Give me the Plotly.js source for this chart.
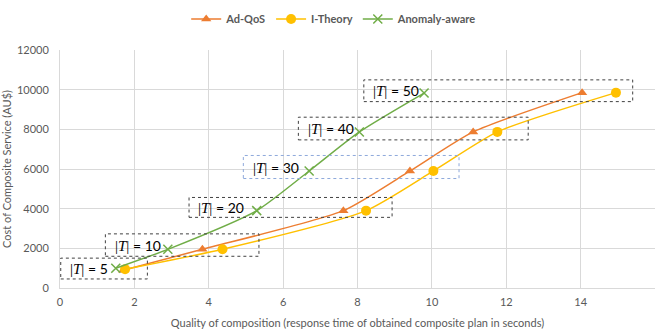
<!DOCTYPE html>
<html>
<head>
<meta charset="utf-8">
<script src="https://cdn.plot.ly/plotly-3.0.1.min.js"></script>
<style>html,body{margin:0;padding:0;background:#fff;}#chart{width:660px;height:335px;}</style>
</head>
<body>
<div id="chart"></div>
<script>
// ---- data ----
const seriesNames = ["Ad-QoS", "I-Theory", "Anomaly-aware"];
const tLabels = [5, 10, 20, 30, 40, 50];
const xAdQoS = [1.7, 3.83, 7.62, 9.41, 11.11, 14.04];
const yAdQoS = [900, 1950, 3900, 5900, 7870, 9850];
const xITheory = [1.75, 4.37, 8.23, 10.04, 11.76, 14.95];
const yITheory = [950, 1950, 3900, 5900, 7870, 9850];
const xAnomaly = [1.5, 2.9, 5.29, 6.7, 8.05, 9.79];
const yAnomaly = [1000, 1950, 3900, 5900, 7870, 9830];

const FONT = "Lato, 'Open Sans', sans-serif";
const GRAY = "#595959";

const traces = [
  {x: xAdQoS, y: yAdQoS, name: seriesNames[0], mode: "lines+markers",
   line: {color: "#ED7D31", width: 1.5, shape: "spline", smoothing: 0.6},
   marker: {symbol: "triangle-up", size: 9, color: "#ED7D31"}},
  {x: xITheory, y: yITheory, name: seriesNames[1], mode: "lines+markers",
   line: {color: "#FFC000", width: 1.5, shape: "spline", smoothing: 0.6},
   marker: {symbol: "circle", size: 10, color: "#FFC000"}},
  {x: xAnomaly, y: yAnomaly, name: seriesNames[2], mode: "lines+markers",
   line: {color: "#70AD47", width: 1.5, shape: "spline", smoothing: 0.6},
   marker: {symbol: "x-thin", size: 9, color: "#70AD47", line: {color: "#70AD47", width: 1.5}}}
];

// label boxes (data coordinates)
const boxes = [
  {x0: 0.02, x1: 2.35, y0: 456, y1: 1506, c: "#404040"},
  {x0: 1.22, x1: 5.35, y0: 1600, y1: 2730, c: "#404040"},
  {x0: 3.47, x1: 8.93, y0: 3562, y1: 4565, c: "#404040"},
  {x0: 4.93, x1: 10.73, y0: 5520, y1: 6682, c: "#8EA9DB"},
  {x0: 6.41, x1: 12.59, y0: 7468, y1: 8612, c: "#404040"},
  {x0: 8.17, x1: 15.4, y0: 9398, y1: 10494, c: "#404040"}
];
const shapes = boxes.map(b => ({type: "rect", xref: "x", yref: "y",
  x0: b.x0, x1: b.x1, y0: b.y0, y1: b.y1,
  line: {color: b.c, width: 1, dash: "dot"}, fillcolor: "rgba(0,0,0,0)"}));
const annotations = boxes.map((b, i) => ({
  xref: "x", yref: "y", x: b.x0 + 0.2, y: (b.y0 + b.y1) / 2,
  xanchor: "left", yanchor: "middle", showarrow: false,
  text: "<span style='font-family:\"Liberation Serif\";font-size:15px'>|<i>T</i>|</span> = " + tLabels[i],
  font: {family: FONT, size: 14, color: "#000"}
}));

const layout = {
  width: 660, height: 335,
  margin: {l: 60, r: 5, t: 33, b: 47},
  paper_bgcolor: "#fff", plot_bgcolor: "#fff",
  font: {family: FONT, size: 11, color: GRAY},
  showlegend: true,
  legend: {orientation: "h", x: 0.46, xanchor: "center", y: 1.13, yanchor: "middle",
           font: {family: FONT, size: 11, color: GRAY, weight: "bold"}, itemwidth: 30},
  xaxis: {range: [0, 16], dtick: 2, showgrid: true, gridcolor: "#D9D9D9",
          showline: true, linecolor: "#D9D9D9", zeroline: false, ticks: "",
          ticklabelstandoff: 4,
          tickfont: {size: 11, color: GRAY},
          title: {text: "Quality of composition (response time of obtained composite plan in seconds)",
                  font: {size: 11, color: GRAY}, standoff: 12}},
  yaxis: {range: [0, 12000], dtick: 2000, tickformat: "d", showgrid: true, gridcolor: "#D9D9D9",
          showline: true, linecolor: "#D9D9D9", zeroline: false, ticks: "",
          ticklabelstandoff: 8,
          tickfont: {size: 11, color: GRAY},
          title: {text: "Cost of Composite Service (AU$)", font: {size: 11, color: GRAY}, standoff: 8}},
  shapes: shapes,
  annotations: annotations
};
Plotly.newPlot("chart", traces, layout, {displayModeBar: false, staticPlot: true});
</script>
</body>
</html>
